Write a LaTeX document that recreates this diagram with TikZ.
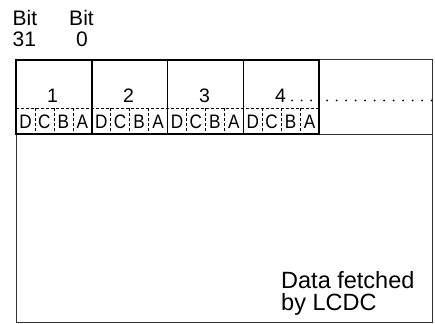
\documentclass[tikz,border=0pt]{standalone}
\usepackage{fontspec}
\setmainfont{Liberation Sans}
\usepackage{graphicx}
\tikzset{
  frameline/.style={black!80, line width=1pt},
  blockline/.style={black, line width=1.5pt},
  cellsep/.style={black, line width=0.6pt, dash pattern=on 3pt off 2pt},
  dotrow/.style={black, line width=2pt, line cap=round, dash pattern=on 0pt off 9.5pt},
  toplbl/.style={font=\fontsize{21}{23}\selectfont, inner sep=0pt},
  numlbl/.style={font=\fontsize{19.5}{21}\selectfont, inner sep=0pt},
  datalbl/.style={font=\fontsize{23.5}{26}\selectfont, inner sep=0pt},
}
\newcommand{\narrowletter}[1]{\scalebox{0.88}[1]{#1}}

\begin{document}
\begin{tikzpicture}[x=1pt, y=-1pt]
            \useasboundingbox (0,0) rectangle (435,323);
            % frame round the memory
            \draw[frameline] (16,60) -- (432,60) -- (432,322) -- (16,322) -- cycle;
            \draw[frameline] (319,134) -- (432,134);
            % the four fetched words
            \foreach \n [count=\i from 0] in {1,2,3,4} {
              \pgfmathsetmacro{\xl}{16+75.75*\i}
              \pgfmathsetmacro{\xr}{\xl+75.75}
              \draw[blockline] (\xl,60) rectangle (\xr,134);
              \foreach \k in {1,2,3}
                \draw[cellsep] ({\xl+18.94*\k},108) -- ({\xl+18.94*\k},134);
              \foreach \c [count=\k from 0] in {D,C,B,A}
                \node[numlbl] (cell\n\c) at ({\xl+9.47+18.94*\k},121.5) {\narrowletter{\c}};
            }
            \draw[cellsep] (16,108) -- (319,108);
            \node[numlbl] (word1) at (52.5,95.5) {1};
            \node[numlbl] (word2) at (128.5,95.5) {2};
            \node[numlbl] (word3) at (204.5,95.5) {3};
            \node[numlbl] (word4) at (280.5,95.5) {4};
            %\node[numlbl, right=0pt of word4] {\dots};
            \draw[dotrow] (292,100.5) -- (315,100.5);
            \draw[dotrow] (327,100.5) -- (432,100.5);
            % bit numbers
            \node[toplbl, anchor=base west] (bitL) at (12.5,26) {Bit};
            \node[toplbl, anchor=base west] (msb) at (12.5,47) {31};
            \node[toplbl, anchor=base] (bitR) at (81.5,26) {Bit};
            \node[toplbl, anchor=base] (lsb) at (82,47) {0};
            % caption
            \node[datalbl, anchor=base west] (fetchA) at (281,288) {Data fetched};
            \node[datalbl, anchor=base west] (fetchB) at (281,310) {by LCDC};
        \end{tikzpicture}
\end{document}
